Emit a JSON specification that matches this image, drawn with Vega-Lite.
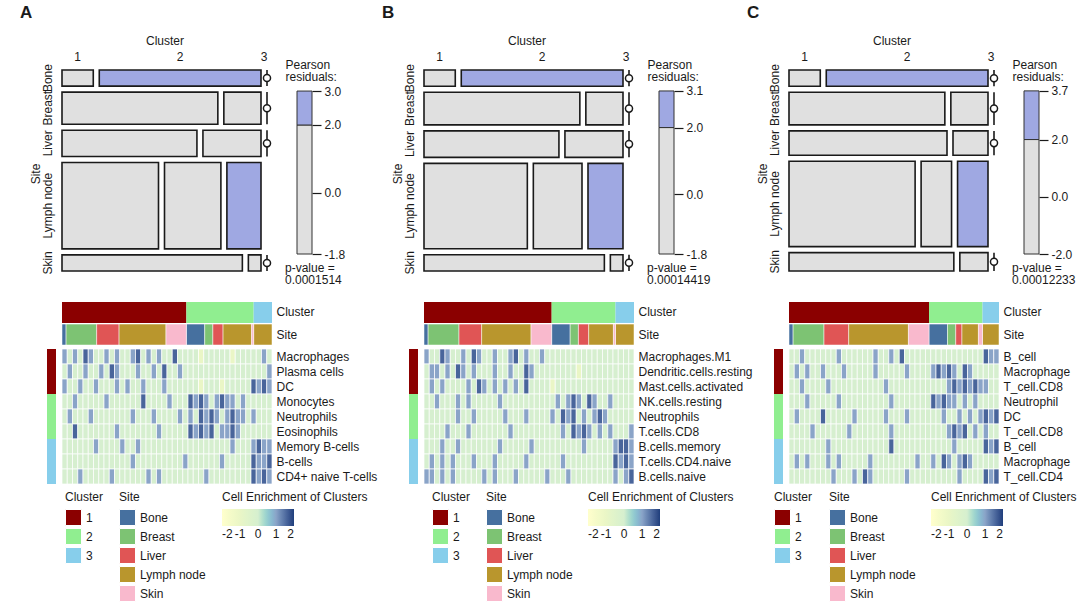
{
"$schema":"https://vega.github.io/schema/vega-lite/v6.json",
"padding":{"left":20,"top":4,"right":0,"bottom":0},
"config":{"font":"Liberation Sans","view":{"stroke":null},
"axis":{"labelFontSize":12,"titleFontSize":12,"titleFontWeight":"normal","labelColor":"#1a1a1a","titleColor":"#1a1a1a"},
"legend":{"labelFontSize":12,"titleFontSize":12,"titleFontWeight":"normal","labelColor":"#1a1a1a","titleColor":"#1a1a1a"},
"title":{"fontSize":12,"fontWeight":"normal","color":"#1a1a1a"}},
"datasets":{
"mA":[{"cl":"1","si":"Bone","n":2,"res":-1.2},{"cl":"2","si":"Bone","n":9,"res":2.4},{"cl":"3","si":"Bone","n":0,"res":-1.0},{"cl":"1","si":"Breast","n":15,"res":0.8},{"cl":"2","si":"Breast","n":4,"res":-0.9},{"cl":"3","si":"Breast","n":0,"res":-1.3},{"cl":"1","si":"Liver","n":11,"res":0.4},{"cl":"2","si":"Liver","n":5,"res":-0.1},{"cl":"3","si":"Liver","n":0,"res":-1.2},{"cl":"1","si":"Lymph node","n":23,"res":-0.3},{"cl":"2","si":"Lymph node","n":14,"res":-0.6},{"cl":"3","si":"Lymph node","n":9,"res":3.0},{"cl":"1","si":"Skin","n":10,"res":1.0},{"cl":"2","si":"Skin","n":1,"res":-1.5},{"cl":"3","si":"Skin","n":0,"res":-1.0}],
"mB":[{"cl":"1","si":"Bone","n":2,"res":-1.2},{"cl":"2","si":"Bone","n":9,"res":2.5},{"cl":"3","si":"Bone","n":0,"res":-1.0},{"cl":"1","si":"Breast","n":15,"res":0.8},{"cl":"2","si":"Breast","n":4,"res":-0.8},{"cl":"3","si":"Breast","n":0,"res":-1.3},{"cl":"1","si":"Liver","n":11,"res":0.4},{"cl":"2","si":"Liver","n":5,"res":0.0},{"cl":"3","si":"Liver","n":0,"res":-1.2},{"cl":"1","si":"Lymph node","n":24,"res":-0.3},{"cl":"2","si":"Lymph node","n":12,"res":-0.7},{"cl":"3","si":"Lymph node","n":9,"res":3.1},{"cl":"1","si":"Skin","n":10,"res":1.0},{"cl":"2","si":"Skin","n":1,"res":-1.4},{"cl":"3","si":"Skin","n":0,"res":-1.0}],
"mC":[{"cl":"1","si":"Bone","n":2,"res":-1.5},{"cl":"2","si":"Bone","n":9,"res":3.7},{"cl":"3","si":"Bone","n":0,"res":-0.9},{"cl":"1","si":"Breast","n":15,"res":0.5},{"cl":"2","si":"Breast","n":4,"res":-0.2},{"cl":"3","si":"Breast","n":0,"res":-1.2},{"cl":"1","si":"Liver","n":12,"res":0.6},{"cl":"2","si":"Liver","n":3,"res":-0.6},{"cl":"3","si":"Liver","n":0,"res":-1.1},{"cl":"1","si":"Lymph node","n":29,"res":0.0},{"cl":"2","si":"Lymph node","n":8,"res":-1.3},{"cl":"3","si":"Lymph node","n":8,"res":2.6},{"cl":"1","si":"Skin","n":10,"res":0.5},{"cl":"2","si":"Skin","n":2,"res":-0.4},{"cl":"3","si":"Skin","n":0,"res":-1.0}],
"hA":[
{"c":1,"r":1,"v":1},{"c":2,"r":1,"v":0},{"c":3,"r":1,"v":1},{"c":4,"r":1,"v":0},{"c":5,"r":1,"v":1.6},{"c":6,"r":1,"v":1},{"c":7,"r":1,"v":0},{"c":8,"r":1,"v":0},{"c":9,"r":1,"v":1},{"c":10,"r":1,"v":0},{"c":11,"r":1,"v":1},{"c":12,"r":1,"v":0},{"c":13,"r":1,"v":0},{"c":14,"r":1,"v":1},{"c":15,"r":1,"v":1.6},{"c":16,"r":1,"v":0},{"c":17,"r":1,"v":1},{"c":18,"r":1,"v":0},{"c":19,"r":1,"v":1},{"c":20,"r":1,"v":0},{"c":21,"r":1,"v":0},{"c":22,"r":1,"v":1.6},{"c":23,"r":1,"v":0},{"c":24,"r":1,"v":0},{"c":25,"r":1,"v":0},{"c":26,"r":1,"v":0},{"c":27,"r":1,"v":-1},{"c":28,"r":1,"v":0},{"c":29,"r":1,"v":0},{"c":30,"r":1,"v":0},{"c":31,"r":1,"v":0},{"c":32,"r":1,"v":0},{"c":33,"r":1,"v":-1},{"c":34,"r":1,"v":0},{"c":35,"r":1,"v":0},{"c":36,"r":1,"v":0},{"c":37,"r":1,"v":0},{"c":38,"r":1,"v":0},{"c":39,"r":1,"v":1},{"c":40,"r":1,"v":0},
{"c":1,"r":2,"v":0},{"c":2,"r":2,"v":1},{"c":3,"r":2,"v":0},{"c":4,"r":2,"v":0},{"c":5,"r":2,"v":1},{"c":6,"r":2,"v":0},{"c":7,"r":2,"v":0},{"c":8,"r":2,"v":1},{"c":9,"r":2,"v":0},{"c":10,"r":2,"v":1.6},{"c":11,"r":2,"v":1},{"c":12,"r":2,"v":0},{"c":13,"r":2,"v":0},{"c":14,"r":2,"v":0},{"c":15,"r":2,"v":1},{"c":16,"r":2,"v":0},{"c":17,"r":2,"v":0},{"c":18,"r":2,"v":1},{"c":19,"r":2,"v":0},{"c":20,"r":2,"v":1.6},{"c":21,"r":2,"v":0},{"c":22,"r":2,"v":0},{"c":23,"r":2,"v":1},{"c":24,"r":2,"v":0},{"c":25,"r":2,"v":0},{"c":26,"r":2,"v":0},{"c":27,"r":2,"v":0},{"c":28,"r":2,"v":0},{"c":29,"r":2,"v":0},{"c":30,"r":2,"v":0},{"c":31,"r":2,"v":0},{"c":32,"r":2,"v":0},{"c":33,"r":2,"v":0},{"c":34,"r":2,"v":0},{"c":35,"r":2,"v":0},{"c":36,"r":2,"v":0},{"c":37,"r":2,"v":0},{"c":38,"r":2,"v":0},{"c":39,"r":2,"v":0},{"c":40,"r":2,"v":1},
{"c":1,"r":3,"v":1},{"c":2,"r":3,"v":0},{"c":3,"r":3,"v":0},{"c":4,"r":3,"v":1},{"c":5,"r":3,"v":0},{"c":6,"r":3,"v":0},{"c":7,"r":3,"v":1},{"c":8,"r":3,"v":0},{"c":9,"r":3,"v":0},{"c":10,"r":3,"v":0},{"c":11,"r":3,"v":1},{"c":12,"r":3,"v":0},{"c":13,"r":3,"v":1},{"c":14,"r":3,"v":0},{"c":15,"r":3,"v":0},{"c":16,"r":3,"v":1},{"c":17,"r":3,"v":0},{"c":18,"r":3,"v":0},{"c":19,"r":3,"v":0},{"c":20,"r":3,"v":1},{"c":21,"r":3,"v":0},{"c":22,"r":3,"v":0},{"c":23,"r":3,"v":0},{"c":24,"r":3,"v":0},{"c":25,"r":3,"v":0},{"c":26,"r":3,"v":0},{"c":27,"r":3,"v":-1},{"c":28,"r":3,"v":0},{"c":29,"r":3,"v":0},{"c":30,"r":3,"v":0},{"c":31,"r":3,"v":-1},{"c":32,"r":3,"v":0},{"c":33,"r":3,"v":0},{"c":34,"r":3,"v":0},{"c":35,"r":3,"v":0},{"c":36,"r":3,"v":0},{"c":37,"r":3,"v":1.6},{"c":38,"r":3,"v":1},{"c":39,"r":3,"v":1.6},{"c":40,"r":3,"v":1},
{"c":1,"r":4,"v":0},{"c":2,"r":4,"v":0},{"c":3,"r":4,"v":1},{"c":4,"r":4,"v":0},{"c":5,"r":4,"v":0},{"c":6,"r":4,"v":0},{"c":7,"r":4,"v":0},{"c":8,"r":4,"v":0},{"c":9,"r":4,"v":1},{"c":10,"r":4,"v":0},{"c":11,"r":4,"v":0},{"c":12,"r":4,"v":0},{"c":13,"r":4,"v":0},{"c":14,"r":4,"v":0},{"c":15,"r":4,"v":0},{"c":16,"r":4,"v":1.6},{"c":17,"r":4,"v":0},{"c":18,"r":4,"v":0},{"c":19,"r":4,"v":0},{"c":20,"r":4,"v":0},{"c":21,"r":4,"v":1},{"c":22,"r":4,"v":0},{"c":23,"r":4,"v":0},{"c":24,"r":4,"v":0},{"c":25,"r":4,"v":1.6},{"c":26,"r":4,"v":1},{"c":27,"r":4,"v":1.6},{"c":28,"r":4,"v":1},{"c":29,"r":4,"v":0},{"c":30,"r":4,"v":1},{"c":31,"r":4,"v":1.6},{"c":32,"r":4,"v":1},{"c":33,"r":4,"v":1},{"c":34,"r":4,"v":0},{"c":35,"r":4,"v":1},{"c":36,"r":4,"v":0},{"c":37,"r":4,"v":0},{"c":38,"r":4,"v":0},{"c":39,"r":4,"v":0},{"c":40,"r":4,"v":0},
{"c":1,"r":5,"v":0},{"c":2,"r":5,"v":1},{"c":3,"r":5,"v":0},{"c":4,"r":5,"v":0},{"c":5,"r":5,"v":0},{"c":6,"r":5,"v":1},{"c":7,"r":5,"v":0},{"c":8,"r":5,"v":0},{"c":9,"r":5,"v":0},{"c":10,"r":5,"v":0},{"c":11,"r":5,"v":0},{"c":12,"r":5,"v":0},{"c":13,"r":5,"v":0},{"c":14,"r":5,"v":1},{"c":15,"r":5,"v":0},{"c":16,"r":5,"v":0},{"c":17,"r":5,"v":0},{"c":18,"r":5,"v":1},{"c":19,"r":5,"v":0},{"c":20,"r":5,"v":0},{"c":21,"r":5,"v":0},{"c":22,"r":5,"v":0},{"c":23,"r":5,"v":1},{"c":24,"r":5,"v":0},{"c":25,"r":5,"v":1},{"c":26,"r":5,"v":0},{"c":27,"r":5,"v":1.6},{"c":28,"r":5,"v":1},{"c":29,"r":5,"v":1.6},{"c":30,"r":5,"v":1},{"c":31,"r":5,"v":0},{"c":32,"r":5,"v":1},{"c":33,"r":5,"v":1.6},{"c":34,"r":5,"v":1},{"c":35,"r":5,"v":1},{"c":36,"r":5,"v":0},{"c":37,"r":5,"v":1},{"c":38,"r":5,"v":0},{"c":39,"r":5,"v":0},{"c":40,"r":5,"v":0},
{"c":1,"r":6,"v":0},{"c":2,"r":6,"v":0},{"c":3,"r":6,"v":1.6},{"c":4,"r":6,"v":0},{"c":5,"r":6,"v":0},{"c":6,"r":6,"v":0},{"c":7,"r":6,"v":0},{"c":8,"r":6,"v":0},{"c":9,"r":6,"v":0},{"c":10,"r":6,"v":0},{"c":11,"r":6,"v":1},{"c":12,"r":6,"v":0},{"c":13,"r":6,"v":0},{"c":14,"r":6,"v":0},{"c":15,"r":6,"v":0},{"c":16,"r":6,"v":0},{"c":17,"r":6,"v":0},{"c":18,"r":6,"v":0},{"c":19,"r":6,"v":1},{"c":20,"r":6,"v":0},{"c":21,"r":6,"v":0},{"c":22,"r":6,"v":0},{"c":23,"r":6,"v":0},{"c":24,"r":6,"v":0},{"c":25,"r":6,"v":1.6},{"c":26,"r":6,"v":1},{"c":27,"r":6,"v":1.6},{"c":28,"r":6,"v":1},{"c":29,"r":6,"v":1.6},{"c":30,"r":6,"v":0},{"c":31,"r":6,"v":1},{"c":32,"r":6,"v":1},{"c":33,"r":6,"v":1.6},{"c":34,"r":6,"v":1},{"c":35,"r":6,"v":0},{"c":36,"r":6,"v":0},{"c":37,"r":6,"v":0},{"c":38,"r":6,"v":0},{"c":39,"r":6,"v":0},{"c":40,"r":6,"v":0},
{"c":1,"r":7,"v":0},{"c":2,"r":7,"v":0},{"c":3,"r":7,"v":0},{"c":4,"r":7,"v":0},{"c":5,"r":7,"v":0},{"c":6,"r":7,"v":0},{"c":7,"r":7,"v":1},{"c":8,"r":7,"v":0},{"c":9,"r":7,"v":0},{"c":10,"r":7,"v":0},{"c":11,"r":7,"v":0},{"c":12,"r":7,"v":1},{"c":13,"r":7,"v":0},{"c":14,"r":7,"v":0},{"c":15,"r":7,"v":1},{"c":16,"r":7,"v":0},{"c":17,"r":7,"v":0},{"c":18,"r":7,"v":0},{"c":19,"r":7,"v":0},{"c":20,"r":7,"v":0},{"c":21,"r":7,"v":0},{"c":22,"r":7,"v":0},{"c":23,"r":7,"v":0},{"c":24,"r":7,"v":0},{"c":25,"r":7,"v":0},{"c":26,"r":7,"v":0},{"c":27,"r":7,"v":0},{"c":28,"r":7,"v":0},{"c":29,"r":7,"v":0},{"c":30,"r":7,"v":0},{"c":31,"r":7,"v":0},{"c":32,"r":7,"v":0},{"c":33,"r":7,"v":1},{"c":34,"r":7,"v":0},{"c":35,"r":7,"v":0},{"c":36,"r":7,"v":0},{"c":37,"r":7,"v":1},{"c":38,"r":7,"v":1.6},{"c":39,"r":7,"v":1},{"c":40,"r":7,"v":1},
{"c":1,"r":8,"v":0},{"c":2,"r":8,"v":0},{"c":3,"r":8,"v":0},{"c":4,"r":8,"v":0},{"c":5,"r":8,"v":0},{"c":6,"r":8,"v":0},{"c":7,"r":8,"v":0},{"c":8,"r":8,"v":0},{"c":9,"r":8,"v":0},{"c":10,"r":8,"v":0},{"c":11,"r":8,"v":0},{"c":12,"r":8,"v":0},{"c":13,"r":8,"v":0},{"c":14,"r":8,"v":1},{"c":15,"r":8,"v":0},{"c":16,"r":8,"v":0},{"c":17,"r":8,"v":0},{"c":18,"r":8,"v":0},{"c":19,"r":8,"v":0},{"c":20,"r":8,"v":0},{"c":21,"r":8,"v":0},{"c":22,"r":8,"v":0},{"c":23,"r":8,"v":0},{"c":24,"r":8,"v":1},{"c":25,"r":8,"v":0},{"c":26,"r":8,"v":0},{"c":27,"r":8,"v":0},{"c":28,"r":8,"v":0},{"c":29,"r":8,"v":0},{"c":30,"r":8,"v":0},{"c":31,"r":8,"v":1},{"c":32,"r":8,"v":0},{"c":33,"r":8,"v":0},{"c":34,"r":8,"v":0},{"c":35,"r":8,"v":0},{"c":36,"r":8,"v":0},{"c":37,"r":8,"v":1.6},{"c":38,"r":8,"v":1},{"c":39,"r":8,"v":1},{"c":40,"r":8,"v":1.6},
{"c":1,"r":9,"v":0},{"c":2,"r":9,"v":0},{"c":3,"r":9,"v":0},{"c":4,"r":9,"v":1},{"c":5,"r":9,"v":0},{"c":6,"r":9,"v":0},{"c":7,"r":9,"v":0},{"c":8,"r":9,"v":0},{"c":9,"r":9,"v":0},{"c":10,"r":9,"v":1},{"c":11,"r":9,"v":0},{"c":12,"r":9,"v":0},{"c":13,"r":9,"v":0},{"c":14,"r":9,"v":0},{"c":15,"r":9,"v":0},{"c":16,"r":9,"v":0},{"c":17,"r":9,"v":1},{"c":18,"r":9,"v":0},{"c":19,"r":9,"v":1},{"c":20,"r":9,"v":0},{"c":21,"r":9,"v":0},{"c":22,"r":9,"v":0},{"c":23,"r":9,"v":0},{"c":24,"r":9,"v":0},{"c":25,"r":9,"v":0},{"c":26,"r":9,"v":0},{"c":27,"r":9,"v":0},{"c":28,"r":9,"v":1},{"c":29,"r":9,"v":0},{"c":30,"r":9,"v":0},{"c":31,"r":9,"v":0},{"c":32,"r":9,"v":0},{"c":33,"r":9,"v":0},{"c":34,"r":9,"v":0},{"c":35,"r":9,"v":0},{"c":36,"r":9,"v":0},{"c":37,"r":9,"v":1.6},{"c":38,"r":9,"v":1},{"c":39,"r":9,"v":1.6},{"c":40,"r":9,"v":1}],
"hB":[
{"c":1,"r":1,"v":1},{"c":2,"r":1,"v":0},{"c":3,"r":1,"v":0},{"c":4,"r":1,"v":1.6},{"c":5,"r":1,"v":1},{"c":6,"r":1,"v":0},{"c":7,"r":1,"v":0},{"c":8,"r":1,"v":1},{"c":9,"r":1,"v":0},{"c":10,"r":1,"v":1.6},{"c":11,"r":1,"v":1},{"c":12,"r":1,"v":0},{"c":13,"r":1,"v":0},{"c":14,"r":1,"v":1},{"c":15,"r":1,"v":0},{"c":16,"r":1,"v":0},{"c":17,"r":1,"v":1},{"c":18,"r":1,"v":1.6},{"c":19,"r":1,"v":0},{"c":20,"r":1,"v":1},{"c":21,"r":1,"v":0},{"c":22,"r":1,"v":0},{"c":23,"r":1,"v":1},{"c":24,"r":1,"v":0},{"c":25,"r":1,"v":0},{"c":26,"r":1,"v":0},{"c":27,"r":1,"v":0},{"c":28,"r":1,"v":0},{"c":29,"r":1,"v":0},{"c":30,"r":1,"v":0},{"c":31,"r":1,"v":0},{"c":32,"r":1,"v":0},{"c":33,"r":1,"v":0},{"c":34,"r":1,"v":0},{"c":35,"r":1,"v":0},{"c":36,"r":1,"v":0},{"c":37,"r":1,"v":0},{"c":38,"r":1,"v":0},{"c":39,"r":1,"v":0},{"c":40,"r":1,"v":0},
{"c":1,"r":2,"v":0},{"c":2,"r":2,"v":1},{"c":3,"r":2,"v":1},{"c":4,"r":2,"v":0},{"c":5,"r":2,"v":1},{"c":6,"r":2,"v":0},{"c":7,"r":2,"v":1.6},{"c":8,"r":2,"v":1},{"c":9,"r":2,"v":0},{"c":10,"r":2,"v":1},{"c":11,"r":2,"v":0},{"c":12,"r":2,"v":0},{"c":13,"r":2,"v":0},{"c":14,"r":2,"v":1},{"c":15,"r":2,"v":0},{"c":16,"r":2,"v":0},{"c":17,"r":2,"v":1},{"c":18,"r":2,"v":0},{"c":19,"r":2,"v":0},{"c":20,"r":2,"v":1.6},{"c":21,"r":2,"v":1},{"c":22,"r":2,"v":0},{"c":23,"r":2,"v":0},{"c":24,"r":2,"v":0},{"c":25,"r":2,"v":0},{"c":26,"r":2,"v":0},{"c":27,"r":2,"v":0},{"c":28,"r":2,"v":0},{"c":29,"r":2,"v":0},{"c":30,"r":2,"v":-1},{"c":31,"r":2,"v":0},{"c":32,"r":2,"v":0},{"c":33,"r":2,"v":0},{"c":34,"r":2,"v":0},{"c":35,"r":2,"v":0},{"c":36,"r":2,"v":0},{"c":37,"r":2,"v":0},{"c":38,"r":2,"v":0},{"c":39,"r":2,"v":0},{"c":40,"r":2,"v":0},
{"c":1,"r":3,"v":0},{"c":2,"r":3,"v":1},{"c":3,"r":3,"v":0},{"c":4,"r":3,"v":1},{"c":5,"r":3,"v":0},{"c":6,"r":3,"v":0},{"c":7,"r":3,"v":0},{"c":8,"r":3,"v":0},{"c":9,"r":3,"v":1},{"c":10,"r":3,"v":0},{"c":11,"r":3,"v":1.6},{"c":12,"r":3,"v":1},{"c":13,"r":3,"v":0},{"c":14,"r":3,"v":1},{"c":15,"r":3,"v":0},{"c":16,"r":3,"v":1},{"c":17,"r":3,"v":0},{"c":18,"r":3,"v":1},{"c":19,"r":3,"v":0},{"c":20,"r":3,"v":1.6},{"c":21,"r":3,"v":0},{"c":22,"r":3,"v":0},{"c":23,"r":3,"v":0},{"c":24,"r":3,"v":0},{"c":25,"r":3,"v":-1},{"c":26,"r":3,"v":0},{"c":27,"r":3,"v":0},{"c":28,"r":3,"v":0},{"c":29,"r":3,"v":0},{"c":30,"r":3,"v":0},{"c":31,"r":3,"v":0},{"c":32,"r":3,"v":0},{"c":33,"r":3,"v":0},{"c":34,"r":3,"v":0},{"c":35,"r":3,"v":0},{"c":36,"r":3,"v":0},{"c":37,"r":3,"v":0},{"c":38,"r":3,"v":0},{"c":39,"r":3,"v":0},{"c":40,"r":3,"v":0},
{"c":1,"r":4,"v":0},{"c":2,"r":4,"v":0},{"c":3,"r":4,"v":1},{"c":4,"r":4,"v":0},{"c":5,"r":4,"v":0},{"c":6,"r":4,"v":0},{"c":7,"r":4,"v":1},{"c":8,"r":4,"v":0},{"c":9,"r":4,"v":1},{"c":10,"r":4,"v":0},{"c":11,"r":4,"v":0},{"c":12,"r":4,"v":0},{"c":13,"r":4,"v":0},{"c":14,"r":4,"v":0},{"c":15,"r":4,"v":1},{"c":16,"r":4,"v":0},{"c":17,"r":4,"v":0},{"c":18,"r":4,"v":0},{"c":19,"r":4,"v":0},{"c":20,"r":4,"v":0},{"c":21,"r":4,"v":0},{"c":22,"r":4,"v":0},{"c":23,"r":4,"v":0},{"c":24,"r":4,"v":0},{"c":25,"r":4,"v":0},{"c":26,"r":4,"v":1},{"c":27,"r":4,"v":0},{"c":28,"r":4,"v":1},{"c":29,"r":4,"v":1.6},{"c":30,"r":4,"v":1},{"c":31,"r":4,"v":0},{"c":32,"r":4,"v":1.6},{"c":33,"r":4,"v":1},{"c":34,"r":4,"v":0},{"c":35,"r":4,"v":0},{"c":36,"r":4,"v":1},{"c":37,"r":4,"v":0},{"c":38,"r":4,"v":0},{"c":39,"r":4,"v":0},{"c":40,"r":4,"v":0},
{"c":1,"r":5,"v":0},{"c":2,"r":5,"v":0},{"c":3,"r":5,"v":0},{"c":4,"r":5,"v":0},{"c":5,"r":5,"v":0},{"c":6,"r":5,"v":0},{"c":7,"r":5,"v":1},{"c":8,"r":5,"v":0},{"c":9,"r":5,"v":0},{"c":10,"r":5,"v":1},{"c":11,"r":5,"v":0},{"c":12,"r":5,"v":0},{"c":13,"r":5,"v":0},{"c":14,"r":5,"v":0},{"c":15,"r":5,"v":0},{"c":16,"r":5,"v":1},{"c":17,"r":5,"v":0},{"c":18,"r":5,"v":0},{"c":19,"r":5,"v":0},{"c":20,"r":5,"v":1},{"c":21,"r":5,"v":0},{"c":22,"r":5,"v":0},{"c":23,"r":5,"v":0},{"c":24,"r":5,"v":0},{"c":25,"r":5,"v":1},{"c":26,"r":5,"v":0},{"c":27,"r":5,"v":1.6},{"c":28,"r":5,"v":1},{"c":29,"r":5,"v":1.6},{"c":30,"r":5,"v":0},{"c":31,"r":5,"v":1},{"c":32,"r":5,"v":0},{"c":33,"r":5,"v":1},{"c":34,"r":5,"v":1.6},{"c":35,"r":5,"v":1},{"c":36,"r":5,"v":0},{"c":37,"r":5,"v":0},{"c":38,"r":5,"v":0},{"c":39,"r":5,"v":0},{"c":40,"r":5,"v":0},
{"c":1,"r":6,"v":0},{"c":2,"r":6,"v":0},{"c":3,"r":6,"v":0},{"c":4,"r":6,"v":0},{"c":5,"r":6,"v":1},{"c":6,"r":6,"v":0},{"c":7,"r":6,"v":0},{"c":8,"r":6,"v":0},{"c":9,"r":6,"v":1},{"c":10,"r":6,"v":0},{"c":11,"r":6,"v":0},{"c":12,"r":6,"v":0},{"c":13,"r":6,"v":0},{"c":14,"r":6,"v":0},{"c":15,"r":6,"v":0},{"c":16,"r":6,"v":0},{"c":17,"r":6,"v":1},{"c":18,"r":6,"v":0},{"c":19,"r":6,"v":0},{"c":20,"r":6,"v":0},{"c":21,"r":6,"v":0},{"c":22,"r":6,"v":0},{"c":23,"r":6,"v":0},{"c":24,"r":6,"v":0},{"c":25,"r":6,"v":0},{"c":26,"r":6,"v":0},{"c":27,"r":6,"v":1},{"c":28,"r":6,"v":0},{"c":29,"r":6,"v":1.6},{"c":30,"r":6,"v":1},{"c":31,"r":6,"v":1.6},{"c":32,"r":6,"v":1},{"c":33,"r":6,"v":0},{"c":34,"r":6,"v":1},{"c":35,"r":6,"v":0},{"c":36,"r":6,"v":1},{"c":37,"r":6,"v":0},{"c":38,"r":6,"v":0},{"c":39,"r":6,"v":0},{"c":40,"r":6,"v":1},
{"c":1,"r":7,"v":0},{"c":2,"r":7,"v":0},{"c":3,"r":7,"v":0},{"c":4,"r":7,"v":1},{"c":5,"r":7,"v":0},{"c":6,"r":7,"v":0},{"c":7,"r":7,"v":1},{"c":8,"r":7,"v":0},{"c":9,"r":7,"v":0},{"c":10,"r":7,"v":0},{"c":11,"r":7,"v":0},{"c":12,"r":7,"v":0},{"c":13,"r":7,"v":0},{"c":14,"r":7,"v":0},{"c":15,"r":7,"v":1},{"c":16,"r":7,"v":0},{"c":17,"r":7,"v":0},{"c":18,"r":7,"v":0},{"c":19,"r":7,"v":0},{"c":20,"r":7,"v":0},{"c":21,"r":7,"v":1},{"c":22,"r":7,"v":0},{"c":23,"r":7,"v":0},{"c":24,"r":7,"v":0},{"c":25,"r":7,"v":0},{"c":26,"r":7,"v":0},{"c":27,"r":7,"v":0},{"c":28,"r":7,"v":0},{"c":29,"r":7,"v":0},{"c":30,"r":7,"v":0},{"c":31,"r":7,"v":1},{"c":32,"r":7,"v":0},{"c":33,"r":7,"v":0},{"c":34,"r":7,"v":0},{"c":35,"r":7,"v":0},{"c":36,"r":7,"v":0},{"c":37,"r":7,"v":1},{"c":38,"r":7,"v":1.6},{"c":39,"r":7,"v":1.6},{"c":40,"r":7,"v":1},
{"c":1,"r":8,"v":0},{"c":2,"r":8,"v":1},{"c":3,"r":8,"v":0},{"c":4,"r":8,"v":1},{"c":5,"r":8,"v":0},{"c":6,"r":8,"v":1},{"c":7,"r":8,"v":0},{"c":8,"r":8,"v":0},{"c":9,"r":8,"v":0},{"c":10,"r":8,"v":1},{"c":11,"r":8,"v":0},{"c":12,"r":8,"v":0},{"c":13,"r":8,"v":0},{"c":14,"r":8,"v":1},{"c":15,"r":8,"v":0},{"c":16,"r":8,"v":0},{"c":17,"r":8,"v":0},{"c":18,"r":8,"v":0},{"c":19,"r":8,"v":0},{"c":20,"r":8,"v":1},{"c":21,"r":8,"v":0},{"c":22,"r":8,"v":0},{"c":23,"r":8,"v":0},{"c":24,"r":8,"v":0},{"c":25,"r":8,"v":0},{"c":26,"r":8,"v":0},{"c":27,"r":8,"v":1},{"c":28,"r":8,"v":0},{"c":29,"r":8,"v":0},{"c":30,"r":8,"v":0},{"c":31,"r":8,"v":0},{"c":32,"r":8,"v":0},{"c":33,"r":8,"v":0},{"c":34,"r":8,"v":0},{"c":35,"r":8,"v":0},{"c":36,"r":8,"v":0},{"c":37,"r":8,"v":1.6},{"c":38,"r":8,"v":1},{"c":39,"r":8,"v":1.6},{"c":40,"r":8,"v":1},
{"c":1,"r":9,"v":1},{"c":2,"r":9,"v":1},{"c":3,"r":9,"v":0},{"c":4,"r":9,"v":1},{"c":5,"r":9,"v":0},{"c":6,"r":9,"v":1},{"c":7,"r":9,"v":0},{"c":8,"r":9,"v":0},{"c":9,"r":9,"v":0},{"c":10,"r":9,"v":0},{"c":11,"r":9,"v":0},{"c":12,"r":9,"v":1},{"c":13,"r":9,"v":0},{"c":14,"r":9,"v":1},{"c":15,"r":9,"v":0},{"c":16,"r":9,"v":0},{"c":17,"r":9,"v":0},{"c":18,"r":9,"v":1},{"c":19,"r":9,"v":0},{"c":20,"r":9,"v":0},{"c":21,"r":9,"v":0},{"c":22,"r":9,"v":0},{"c":23,"r":9,"v":0},{"c":24,"r":9,"v":1},{"c":25,"r":9,"v":0},{"c":26,"r":9,"v":0},{"c":27,"r":9,"v":0},{"c":28,"r":9,"v":1},{"c":29,"r":9,"v":0},{"c":30,"r":9,"v":0},{"c":31,"r":9,"v":0},{"c":32,"r":9,"v":0},{"c":33,"r":9,"v":0},{"c":34,"r":9,"v":0},{"c":35,"r":9,"v":0},{"c":36,"r":9,"v":0},{"c":37,"r":9,"v":1},{"c":38,"r":9,"v":0},{"c":39,"r":9,"v":1},{"c":40,"r":9,"v":1.6}],
"hC":[
{"c":1,"r":1,"v":0},{"c":2,"r":1,"v":0},{"c":3,"r":1,"v":1},{"c":4,"r":1,"v":0},{"c":5,"r":1,"v":0},{"c":6,"r":1,"v":0},{"c":7,"r":1,"v":0},{"c":8,"r":1,"v":0},{"c":9,"r":1,"v":0},{"c":10,"r":1,"v":1},{"c":11,"r":1,"v":0},{"c":12,"r":1,"v":0},{"c":13,"r":1,"v":0},{"c":14,"r":1,"v":0},{"c":15,"r":1,"v":0},{"c":16,"r":1,"v":0},{"c":17,"r":1,"v":1},{"c":18,"r":1,"v":0},{"c":19,"r":1,"v":0},{"c":20,"r":1,"v":1},{"c":21,"r":1,"v":0},{"c":22,"r":1,"v":1.6},{"c":23,"r":1,"v":0},{"c":24,"r":1,"v":0},{"c":25,"r":1,"v":0},{"c":26,"r":1,"v":0},{"c":27,"r":1,"v":0},{"c":28,"r":1,"v":0},{"c":29,"r":1,"v":0},{"c":30,"r":1,"v":0},{"c":31,"r":1,"v":0},{"c":32,"r":1,"v":0},{"c":33,"r":1,"v":0},{"c":34,"r":1,"v":0},{"c":35,"r":1,"v":0},{"c":36,"r":1,"v":0},{"c":37,"r":1,"v":0},{"c":38,"r":1,"v":1.6},{"c":39,"r":1,"v":1},{"c":40,"r":1,"v":1},
{"c":1,"r":2,"v":0},{"c":2,"r":2,"v":1},{"c":3,"r":2,"v":0},{"c":4,"r":2,"v":1},{"c":5,"r":2,"v":0},{"c":6,"r":2,"v":0},{"c":7,"r":2,"v":1},{"c":8,"r":2,"v":0},{"c":9,"r":2,"v":0},{"c":10,"r":2,"v":0},{"c":11,"r":2,"v":1},{"c":12,"r":2,"v":0},{"c":13,"r":2,"v":0},{"c":14,"r":2,"v":0},{"c":15,"r":2,"v":0},{"c":16,"r":2,"v":0},{"c":17,"r":2,"v":1},{"c":18,"r":2,"v":0},{"c":19,"r":2,"v":0},{"c":20,"r":2,"v":0},{"c":21,"r":2,"v":0},{"c":22,"r":2,"v":0},{"c":23,"r":2,"v":1},{"c":24,"r":2,"v":0},{"c":25,"r":2,"v":0},{"c":26,"r":2,"v":0},{"c":27,"r":2,"v":0},{"c":28,"r":2,"v":1},{"c":29,"r":2,"v":1.6},{"c":30,"r":2,"v":1},{"c":31,"r":2,"v":1.6},{"c":32,"r":2,"v":1},{"c":33,"r":2,"v":0},{"c":34,"r":2,"v":1.6},{"c":35,"r":2,"v":1},{"c":36,"r":2,"v":0},{"c":37,"r":2,"v":0},{"c":38,"r":2,"v":0},{"c":39,"r":2,"v":0},{"c":40,"r":2,"v":0},
{"c":1,"r":3,"v":0},{"c":2,"r":3,"v":0},{"c":3,"r":3,"v":1},{"c":4,"r":3,"v":0},{"c":5,"r":3,"v":0},{"c":6,"r":3,"v":0},{"c":7,"r":3,"v":0},{"c":8,"r":3,"v":1},{"c":9,"r":3,"v":0},{"c":10,"r":3,"v":0},{"c":11,"r":3,"v":0},{"c":12,"r":3,"v":0},{"c":13,"r":3,"v":0},{"c":14,"r":3,"v":0},{"c":15,"r":3,"v":0},{"c":16,"r":3,"v":0},{"c":17,"r":3,"v":0},{"c":18,"r":3,"v":0},{"c":19,"r":3,"v":1},{"c":20,"r":3,"v":0},{"c":21,"r":3,"v":0},{"c":22,"r":3,"v":0},{"c":23,"r":3,"v":0},{"c":24,"r":3,"v":0},{"c":25,"r":3,"v":0},{"c":26,"r":3,"v":0},{"c":27,"r":3,"v":0},{"c":28,"r":3,"v":0},{"c":29,"r":3,"v":0},{"c":30,"r":3,"v":0},{"c":31,"r":3,"v":1},{"c":32,"r":3,"v":1.6},{"c":33,"r":3,"v":1},{"c":34,"r":3,"v":1.6},{"c":35,"r":3,"v":1},{"c":36,"r":3,"v":1.6},{"c":37,"r":3,"v":1},{"c":38,"r":3,"v":1},{"c":39,"r":3,"v":0},{"c":40,"r":3,"v":0},
{"c":1,"r":4,"v":0},{"c":2,"r":4,"v":0},{"c":3,"r":4,"v":0},{"c":4,"r":4,"v":1},{"c":5,"r":4,"v":0},{"c":6,"r":4,"v":0},{"c":7,"r":4,"v":0},{"c":8,"r":4,"v":0},{"c":9,"r":4,"v":0},{"c":10,"r":4,"v":1},{"c":11,"r":4,"v":0},{"c":12,"r":4,"v":0},{"c":13,"r":4,"v":0},{"c":14,"r":4,"v":0},{"c":15,"r":4,"v":0},{"c":16,"r":4,"v":0},{"c":17,"r":4,"v":0},{"c":18,"r":4,"v":0},{"c":19,"r":4,"v":0},{"c":20,"r":4,"v":1},{"c":21,"r":4,"v":0},{"c":22,"r":4,"v":0},{"c":23,"r":4,"v":0},{"c":24,"r":4,"v":0},{"c":25,"r":4,"v":0},{"c":26,"r":4,"v":0},{"c":27,"r":4,"v":0},{"c":28,"r":4,"v":1.6},{"c":29,"r":4,"v":1},{"c":30,"r":4,"v":1.6},{"c":31,"r":4,"v":1},{"c":32,"r":4,"v":1},{"c":33,"r":4,"v":0},{"c":34,"r":4,"v":1},{"c":35,"r":4,"v":0},{"c":36,"r":4,"v":1},{"c":37,"r":4,"v":0},{"c":38,"r":4,"v":0},{"c":39,"r":4,"v":0},{"c":40,"r":4,"v":0},
{"c":1,"r":5,"v":0},{"c":2,"r":5,"v":1},{"c":3,"r":5,"v":0},{"c":4,"r":5,"v":0},{"c":5,"r":5,"v":0},{"c":6,"r":5,"v":0},{"c":7,"r":5,"v":1.6},{"c":8,"r":5,"v":0},{"c":9,"r":5,"v":0},{"c":10,"r":5,"v":0},{"c":11,"r":5,"v":0},{"c":12,"r":5,"v":0},{"c":13,"r":5,"v":1},{"c":14,"r":5,"v":0},{"c":15,"r":5,"v":0},{"c":16,"r":5,"v":0},{"c":17,"r":5,"v":0},{"c":18,"r":5,"v":0},{"c":19,"r":5,"v":1},{"c":20,"r":5,"v":0},{"c":21,"r":5,"v":0},{"c":22,"r":5,"v":0},{"c":23,"r":5,"v":1},{"c":24,"r":5,"v":0},{"c":25,"r":5,"v":0},{"c":26,"r":5,"v":0},{"c":27,"r":5,"v":0},{"c":28,"r":5,"v":0},{"c":29,"r":5,"v":0},{"c":30,"r":5,"v":1},{"c":31,"r":5,"v":0},{"c":32,"r":5,"v":0},{"c":33,"r":5,"v":1},{"c":34,"r":5,"v":0},{"c":35,"r":5,"v":1},{"c":36,"r":5,"v":0},{"c":37,"r":5,"v":1},{"c":38,"r":5,"v":1.6},{"c":39,"r":5,"v":1},{"c":40,"r":5,"v":1.6},
{"c":1,"r":6,"v":0},{"c":2,"r":6,"v":0},{"c":3,"r":6,"v":0},{"c":4,"r":6,"v":0},{"c":5,"r":6,"v":1},{"c":6,"r":6,"v":0},{"c":7,"r":6,"v":0},{"c":8,"r":6,"v":0},{"c":9,"r":6,"v":0},{"c":10,"r":6,"v":0},{"c":11,"r":6,"v":0},{"c":12,"r":6,"v":1},{"c":13,"r":6,"v":0},{"c":14,"r":6,"v":0},{"c":15,"r":6,"v":0},{"c":16,"r":6,"v":0},{"c":17,"r":6,"v":0},{"c":18,"r":6,"v":0},{"c":19,"r":6,"v":0},{"c":20,"r":6,"v":1},{"c":21,"r":6,"v":0},{"c":22,"r":6,"v":0},{"c":23,"r":6,"v":0},{"c":24,"r":6,"v":0},{"c":25,"r":6,"v":0},{"c":26,"r":6,"v":0},{"c":27,"r":6,"v":0},{"c":28,"r":6,"v":0},{"c":29,"r":6,"v":0},{"c":30,"r":6,"v":0},{"c":31,"r":6,"v":1},{"c":32,"r":6,"v":1.6},{"c":33,"r":6,"v":1},{"c":34,"r":6,"v":1.6},{"c":35,"r":6,"v":0},{"c":36,"r":6,"v":1},{"c":37,"r":6,"v":0},{"c":38,"r":6,"v":1},{"c":39,"r":6,"v":0},{"c":40,"r":6,"v":0},
{"c":1,"r":7,"v":0},{"c":2,"r":7,"v":0},{"c":3,"r":7,"v":0},{"c":4,"r":7,"v":0},{"c":5,"r":7,"v":0},{"c":6,"r":7,"v":0},{"c":7,"r":7,"v":0},{"c":8,"r":7,"v":1},{"c":9,"r":7,"v":0},{"c":10,"r":7,"v":0},{"c":11,"r":7,"v":0},{"c":12,"r":7,"v":0},{"c":13,"r":7,"v":0},{"c":14,"r":7,"v":0},{"c":15,"r":7,"v":0},{"c":16,"r":7,"v":0},{"c":17,"r":7,"v":0},{"c":18,"r":7,"v":0},{"c":19,"r":7,"v":0},{"c":20,"r":7,"v":1.6},{"c":21,"r":7,"v":0},{"c":22,"r":7,"v":0},{"c":23,"r":7,"v":0},{"c":24,"r":7,"v":0},{"c":25,"r":7,"v":0},{"c":26,"r":7,"v":0},{"c":27,"r":7,"v":0},{"c":28,"r":7,"v":0},{"c":29,"r":7,"v":0},{"c":30,"r":7,"v":0},{"c":31,"r":7,"v":0},{"c":32,"r":7,"v":1},{"c":33,"r":7,"v":0},{"c":34,"r":7,"v":0},{"c":35,"r":7,"v":0},{"c":36,"r":7,"v":0},{"c":37,"r":7,"v":0},{"c":38,"r":7,"v":1.6},{"c":39,"r":7,"v":1},{"c":40,"r":7,"v":1.6},
{"c":1,"r":8,"v":0},{"c":2,"r":8,"v":1},{"c":3,"r":8,"v":0},{"c":4,"r":8,"v":1},{"c":5,"r":8,"v":0},{"c":6,"r":8,"v":0},{"c":7,"r":8,"v":0},{"c":8,"r":8,"v":1},{"c":9,"r":8,"v":0},{"c":10,"r":8,"v":1},{"c":11,"r":8,"v":0},{"c":12,"r":8,"v":0},{"c":13,"r":8,"v":0},{"c":14,"r":8,"v":0},{"c":15,"r":8,"v":0},{"c":16,"r":8,"v":1},{"c":17,"r":8,"v":0},{"c":18,"r":8,"v":0},{"c":19,"r":8,"v":0},{"c":20,"r":8,"v":0},{"c":21,"r":8,"v":0},{"c":22,"r":8,"v":0},{"c":23,"r":8,"v":0},{"c":24,"r":8,"v":0},{"c":25,"r":8,"v":1},{"c":26,"r":8,"v":0},{"c":27,"r":8,"v":0},{"c":28,"r":8,"v":1},{"c":29,"r":8,"v":0},{"c":30,"r":8,"v":1.6},{"c":31,"r":8,"v":1},{"c":32,"r":8,"v":0},{"c":33,"r":8,"v":1},{"c":34,"r":8,"v":1.6},{"c":35,"r":8,"v":1},{"c":36,"r":8,"v":0},{"c":37,"r":8,"v":0},{"c":38,"r":8,"v":0},{"c":39,"r":8,"v":0},{"c":40,"r":8,"v":0},
{"c":1,"r":9,"v":0},{"c":2,"r":9,"v":0},{"c":3,"r":9,"v":0},{"c":4,"r":9,"v":0},{"c":5,"r":9,"v":0},{"c":6,"r":9,"v":0},{"c":7,"r":9,"v":0},{"c":8,"r":9,"v":0},{"c":9,"r":9,"v":1},{"c":10,"r":9,"v":0},{"c":11,"r":9,"v":0},{"c":12,"r":9,"v":0},{"c":13,"r":9,"v":1},{"c":14,"r":9,"v":0},{"c":15,"r":9,"v":1.6},{"c":16,"r":9,"v":1},{"c":17,"r":9,"v":0},{"c":18,"r":9,"v":0},{"c":19,"r":9,"v":0},{"c":20,"r":9,"v":0},{"c":21,"r":9,"v":0},{"c":22,"r":9,"v":0},{"c":23,"r":9,"v":1},{"c":24,"r":9,"v":0},{"c":25,"r":9,"v":0},{"c":26,"r":9,"v":0},{"c":27,"r":9,"v":0},{"c":28,"r":9,"v":0},{"c":29,"r":9,"v":0},{"c":30,"r":9,"v":0},{"c":31,"r":9,"v":0},{"c":32,"r":9,"v":0},{"c":33,"r":9,"v":1},{"c":34,"r":9,"v":0},{"c":35,"r":9,"v":0},{"c":36,"r":9,"v":0},{"c":37,"r":9,"v":0},{"c":38,"r":9,"v":1.6},{"c":39,"r":9,"v":1},{"c":40,"r":9,"v":1.6}],
"grp":[{"r":1,"g":"1"},{"r":2,"g":"1"},{"r":3,"g":"1"},{"r":4,"g":"2"},{"r":5,"g":"2"},{"r":6,"g":"2"},{"r":7,"g":"3"},{"r":8,"g":"3"},{"r":9,"g":"3"}]
},
"columns":14,"bounds":"flush","spacing":{"row":4,"column":6},
"resolve":{"scale":{"color":"independent"}},
"concat":[
{"width":9,"height":207,"title":{"text":"A","fontSize":17,"fontWeight":"bold","anchor":"start","frame":"group","dx":-27,"offset":48},"data":{"values":[]},"mark":"rect","encoding":{}},
{"width":205,"height":207,"data":{"name":"mA"},
 "transform":[{"stack":"n","groupby":["si"],"sort":[{"field":"cl"}],"offset":"normalize","as":["x0","x1"]},{"stack":"n","groupby":[],"sort":[{"field":"si"},{"field":"cl"}],"offset":"normalize","as":["y0","y1"]},{"joinaggregate":[{"op":"min","field":"y0","as":"ys0"},{"op":"max","field":"y1","as":"ys1"}],"groupby":["si"]}],
 "layer":[
 {"transform":[{"filter":"datum.n > 0"}],"mark":{"type":"rect","x2Offset":-6,"y2Offset":-6,"stroke":"#1a1a1a","strokeWidth":1.6},
  "encoding":{"x":{"field":"x0","type":"quantitative","title":"Cluster","scale":{"domain":[0,1],"nice":false,"zero":false},"axis":{"orient":"top","labels":false,"ticks":false,"domain":false,"grid":false,"titlePadding":23}},"x2":{"field":"x1"},
  "y":{"field":"ys0","type":"quantitative","title":"Site","scale":{"domain":[0,1],"nice":false,"zero":false,"reverse":true},"axis":{"orient":"left","labels":false,"ticks":false,"domain":false,"grid":false,"titlePadding":20}},"y2":{"field":"ys1"},
  "color":{"field":"res","type":"quantitative","scale":{"type":"threshold","domain":[2],"range":["#e0e0e0","#9fa8e2"]},"legend":null}}},
 {"transform":[{"filter":"datum.n == 0"}],"mark":{"type":"rule","y2Offset":-6,"strokeWidth":1.6,"color":"#1a1a1a"},
  "encoding":{"x":{"field":"x0","type":"quantitative","title":"Cluster"},"y":{"field":"ys0","type":"quantitative","title":"Site"},"y2":{"field":"ys1"}}},
 {"transform":[{"filter":"datum.n == 0"},{"fold":["ys0","ys1"],"as":["k","yv"]},{"aggregate":[{"op":"mean","field":"yv","as":"ym"},{"op":"max","field":"x0","as":"xz"}],"groupby":["si"]}],
  "mark":{"type":"point","shape":"circle","filled":true,"fill":"white","stroke":"#1a1a1a","strokeWidth":1.5,"size":50,"opacity":1,"yOffset":-3},
  "encoding":{"x":{"field":"xz","type":"quantitative","title":"Cluster"},"y":{"field":"ym","type":"quantitative","title":"Site"}}},
 {"transform":[{"filter":"datum.si == 'Bone'"},{"fold":["x0","x1"],"as":["k","xv"]},{"aggregate":[{"op":"mean","field":"xv","as":"xm"}],"groupby":["cl"]}],
  "mark":{"type":"text","xOffset":-3,"dy":-6,"baseline":"bottom","fontSize":12,"color":"#1a1a1a"},
  "encoding":{"x":{"field":"xm","type":"quantitative","title":"Cluster"},"y":{"datum":0},"text":{"field":"cl"}}},
 {"transform":[{"fold":["ys0","ys1"],"as":["k","yv"]},{"aggregate":[{"op":"mean","field":"yv","as":"ym"}],"groupby":["si"]}],
  "mark":{"type":"text","angle":270,"baseline":"bottom","dy":-7,"yOffset":-3,"fontSize":12,"color":"#1a1a1a"},
  "encoding":{"x":{"datum":0},"y":{"field":"ym","type":"quantitative","title":"Site"},"text":{"field":"si"}}}
 ]},
{"width":13,"height":1,"data":{"values":[]},"mark":"rect","encoding":{}},
{"width":15,"height":184,
 "data":{"values":[{"lo":-1.8,"hi":2.0,"res":0},{"lo":2.0,"hi":3.0,"res":3.0}]},
 "title":{"text":["p-value =","0.0001514"],"orient":"bottom","anchor":"start","frame":"group","dx":-12,"offset":3,"fontSize":12,"lineHeight":12},
 "mark":{"type":"rect","stroke":"#333333","strokeWidth":1},
 "encoding":{"y":{"field":"lo","type":"quantitative","scale":{"domain":[-1.8,3.62],"nice":false,"zero":false},"axis":{"orient":"right","values":[-1.8,0,2,3],"format":".1f","labelExpr":"replace(datum.label, '\u2212', '-')","title":["Pearson","residuals:"],"titleAngle":0,"titleAlign":"left","titleBaseline":"top","titleX":-27,"titleY":-11,"titleLineHeight":12,"domain":false,"grid":false,"tickSize":9,"tickColor":"#1a1a1a","tickWidth":1.2,"labelPadding":3}},
  "y2":{"field":"hi"},
  "color":{"field":"res","type":"quantitative","scale":{"type":"threshold","domain":[2],"range":["#e0e0e0","#9fa8e2"]},"legend":null}}},
{"width":85,"height":1,"data":{"values":[]},"mark":"rect","encoding":{}},
{"width":9,"height":207,"title":{"text":"B","fontSize":17,"fontWeight":"bold","anchor":"start","frame":"group","dx":-27,"offset":48},"data":{"values":[]},"mark":"rect","encoding":{}},
{"width":205,"height":207,"data":{"name":"mB"},
 "transform":[{"stack":"n","groupby":["si"],"sort":[{"field":"cl"}],"offset":"normalize","as":["x0","x1"]},{"stack":"n","groupby":[],"sort":[{"field":"si"},{"field":"cl"}],"offset":"normalize","as":["y0","y1"]},{"joinaggregate":[{"op":"min","field":"y0","as":"ys0"},{"op":"max","field":"y1","as":"ys1"}],"groupby":["si"]}],
 "layer":[
 {"transform":[{"filter":"datum.n > 0"}],"mark":{"type":"rect","x2Offset":-6,"y2Offset":-6,"stroke":"#1a1a1a","strokeWidth":1.6},
  "encoding":{"x":{"field":"x0","type":"quantitative","title":"Cluster","scale":{"domain":[0,1],"nice":false,"zero":false},"axis":{"orient":"top","labels":false,"ticks":false,"domain":false,"grid":false,"titlePadding":23}},"x2":{"field":"x1"},
  "y":{"field":"ys0","type":"quantitative","title":"Site","scale":{"domain":[0,1],"nice":false,"zero":false,"reverse":true},"axis":{"orient":"left","labels":false,"ticks":false,"domain":false,"grid":false,"titlePadding":20}},"y2":{"field":"ys1"},
  "color":{"field":"res","type":"quantitative","scale":{"type":"threshold","domain":[2],"range":["#e0e0e0","#9fa8e2"]},"legend":null}}},
 {"transform":[{"filter":"datum.n == 0"}],"mark":{"type":"rule","y2Offset":-6,"strokeWidth":1.6,"color":"#1a1a1a"},
  "encoding":{"x":{"field":"x0","type":"quantitative","title":"Cluster"},"y":{"field":"ys0","type":"quantitative","title":"Site"},"y2":{"field":"ys1"}}},
 {"transform":[{"filter":"datum.n == 0"},{"fold":["ys0","ys1"],"as":["k","yv"]},{"aggregate":[{"op":"mean","field":"yv","as":"ym"},{"op":"max","field":"x0","as":"xz"}],"groupby":["si"]}],
  "mark":{"type":"point","shape":"circle","filled":true,"fill":"white","stroke":"#1a1a1a","strokeWidth":1.5,"size":50,"opacity":1,"yOffset":-3},
  "encoding":{"x":{"field":"xz","type":"quantitative","title":"Cluster"},"y":{"field":"ym","type":"quantitative","title":"Site"}}},
 {"transform":[{"filter":"datum.si == 'Bone'"},{"fold":["x0","x1"],"as":["k","xv"]},{"aggregate":[{"op":"mean","field":"xv","as":"xm"}],"groupby":["cl"]}],
  "mark":{"type":"text","xOffset":-3,"dy":-6,"baseline":"bottom","fontSize":12,"color":"#1a1a1a"},
  "encoding":{"x":{"field":"xm","type":"quantitative","title":"Cluster"},"y":{"datum":0},"text":{"field":"cl"}}},
 {"transform":[{"fold":["ys0","ys1"],"as":["k","yv"]},{"aggregate":[{"op":"mean","field":"yv","as":"ym"}],"groupby":["si"]}],
  "mark":{"type":"text","angle":270,"baseline":"bottom","dy":-7,"yOffset":-3,"fontSize":12,"color":"#1a1a1a"},
  "encoding":{"x":{"datum":0},"y":{"field":"ym","type":"quantitative","title":"Site"},"text":{"field":"si"}}}
 ]},
{"width":13,"height":1,"data":{"values":[]},"mark":"rect","encoding":{}},
{"width":15,"height":184,
 "data":{"values":[{"lo":-1.8,"hi":2.0,"res":0},{"lo":2.0,"hi":3.1,"res":3.1}]},
 "title":{"text":["p-value =","0.00014419"],"orient":"bottom","anchor":"start","frame":"group","dx":-12,"offset":3,"fontSize":12,"lineHeight":12},
 "mark":{"type":"rect","stroke":"#333333","strokeWidth":1},
 "encoding":{"y":{"field":"lo","type":"quantitative","scale":{"domain":[-1.8,3.73],"nice":false,"zero":false},"axis":{"orient":"right","values":[-1.8,0,2,3.1],"format":".1f","labelExpr":"replace(datum.label, '\u2212', '-')","title":["Pearson","residuals:"],"titleAngle":0,"titleAlign":"left","titleBaseline":"top","titleX":-27,"titleY":-11,"titleLineHeight":12,"domain":false,"grid":false,"tickSize":9,"tickColor":"#1a1a1a","tickWidth":1.2,"labelPadding":3}},
  "y2":{"field":"hi"},
  "color":{"field":"res","type":"quantitative","scale":{"type":"threshold","domain":[2],"range":["#e0e0e0","#9fa8e2"]},"legend":null}}},
{"width":88,"height":1,"data":{"values":[]},"mark":"rect","encoding":{}},
{"width":9,"height":207,"title":{"text":"C","fontSize":17,"fontWeight":"bold","anchor":"start","frame":"group","dx":-27,"offset":48},"data":{"values":[]},"mark":"rect","encoding":{}},
{"width":205,"height":207,"data":{"name":"mC"},
 "transform":[{"stack":"n","groupby":["si"],"sort":[{"field":"cl"}],"offset":"normalize","as":["x0","x1"]},{"stack":"n","groupby":[],"sort":[{"field":"si"},{"field":"cl"}],"offset":"normalize","as":["y0","y1"]},{"joinaggregate":[{"op":"min","field":"y0","as":"ys0"},{"op":"max","field":"y1","as":"ys1"}],"groupby":["si"]}],
 "layer":[
 {"transform":[{"filter":"datum.n > 0"}],"mark":{"type":"rect","x2Offset":-6,"y2Offset":-6,"stroke":"#1a1a1a","strokeWidth":1.6},
  "encoding":{"x":{"field":"x0","type":"quantitative","title":"Cluster","scale":{"domain":[0,1],"nice":false,"zero":false},"axis":{"orient":"top","labels":false,"ticks":false,"domain":false,"grid":false,"titlePadding":23}},"x2":{"field":"x1"},
  "y":{"field":"ys0","type":"quantitative","title":"Site","scale":{"domain":[0,1],"nice":false,"zero":false,"reverse":true},"axis":{"orient":"left","labels":false,"ticks":false,"domain":false,"grid":false,"titlePadding":20}},"y2":{"field":"ys1"},
  "color":{"field":"res","type":"quantitative","scale":{"type":"threshold","domain":[2],"range":["#e0e0e0","#9fa8e2"]},"legend":null}}},
 {"transform":[{"filter":"datum.n == 0"}],"mark":{"type":"rule","y2Offset":-6,"strokeWidth":1.6,"color":"#1a1a1a"},
  "encoding":{"x":{"field":"x0","type":"quantitative","title":"Cluster"},"y":{"field":"ys0","type":"quantitative","title":"Site"},"y2":{"field":"ys1"}}},
 {"transform":[{"filter":"datum.n == 0"},{"fold":["ys0","ys1"],"as":["k","yv"]},{"aggregate":[{"op":"mean","field":"yv","as":"ym"},{"op":"max","field":"x0","as":"xz"}],"groupby":["si"]}],
  "mark":{"type":"point","shape":"circle","filled":true,"fill":"white","stroke":"#1a1a1a","strokeWidth":1.5,"size":50,"opacity":1,"yOffset":-3},
  "encoding":{"x":{"field":"xz","type":"quantitative","title":"Cluster"},"y":{"field":"ym","type":"quantitative","title":"Site"}}},
 {"transform":[{"filter":"datum.si == 'Bone'"},{"fold":["x0","x1"],"as":["k","xv"]},{"aggregate":[{"op":"mean","field":"xv","as":"xm"}],"groupby":["cl"]}],
  "mark":{"type":"text","xOffset":-3,"dy":-6,"baseline":"bottom","fontSize":12,"color":"#1a1a1a"},
  "encoding":{"x":{"field":"xm","type":"quantitative","title":"Cluster"},"y":{"datum":0},"text":{"field":"cl"}}},
 {"transform":[{"fold":["ys0","ys1"],"as":["k","yv"]},{"aggregate":[{"op":"mean","field":"yv","as":"ym"}],"groupby":["si"]}],
  "mark":{"type":"text","angle":270,"baseline":"bottom","dy":-7,"yOffset":-3,"fontSize":12,"color":"#1a1a1a"},
  "encoding":{"x":{"datum":0},"y":{"field":"ym","type":"quantitative","title":"Site"},"text":{"field":"si"}}}
 ]},
{"width":13,"height":1,"data":{"values":[]},"mark":"rect","encoding":{}},
{"width":15,"height":184,
 "data":{"values":[{"lo":-2.0,"hi":2.0,"res":0},{"lo":2.0,"hi":3.7,"res":3.7}]},
 "title":{"text":["p-value =","0.00012233"],"orient":"bottom","anchor":"start","frame":"group","dx":-12,"offset":3,"fontSize":12,"lineHeight":12},
 "mark":{"type":"rect","stroke":"#333333","strokeWidth":1},
 "encoding":{"y":{"field":"lo","type":"quantitative","scale":{"domain":[-2.0,4.43],"nice":false,"zero":false},"axis":{"orient":"right","values":[-2,0,2,3.7],"format":".1f","labelExpr":"replace(datum.label, '\u2212', '-')","title":["Pearson","residuals:"],"titleAngle":0,"titleAlign":"left","titleBaseline":"top","titleX":-27,"titleY":-11,"titleLineHeight":12,"domain":false,"grid":false,"tickSize":9,"tickColor":"#1a1a1a","tickWidth":1.2,"labelPadding":3}},
  "y2":{"field":"hi"},
  "color":{"field":"res","type":"quantitative","scale":{"type":"threshold","domain":[2],"range":["#e0e0e0","#9fa8e2"]},"legend":null}}},
{"width":1,"height":17,"data":{"values":[]},"mark":"rect","encoding":{}},
{"width":1,"height":17,"data":{"values":[]},"mark":"rect","encoding":{}},
{"width":1,"height":17,"data":{"values":[]},"mark":"rect","encoding":{}},
{"width":1,"height":17,"data":{"values":[]},"mark":"rect","encoding":{}},
{"width":1,"height":17,"data":{"values":[]},"mark":"rect","encoding":{}},
{"width":1,"height":17,"data":{"values":[]},"mark":"rect","encoding":{}},
{"width":1,"height":17,"data":{"values":[]},"mark":"rect","encoding":{}},
{"width":1,"height":17,"data":{"values":[]},"mark":"rect","encoding":{}},
{"width":1,"height":17,"data":{"values":[]},"mark":"rect","encoding":{}},
{"width":1,"height":17,"data":{"values":[]},"mark":"rect","encoding":{}},
{"width":1,"height":17,"data":{"values":[]},"mark":"rect","encoding":{}},
{"width":1,"height":17,"data":{"values":[]},"mark":"rect","encoding":{}},
{"width":1,"height":17,"data":{"values":[]},"mark":"rect","encoding":{}},
{"width":1,"height":17,"data":{"values":[]},"mark":"rect","encoding":{}},
{"width":1,"height":1,"data":{"values":[]},"mark":"rect","encoding":{}},
{"width":210,"height":43,"data":{"name":"mA"},"transform":[{"filter":"datum.n > 0"}],
 "layer":[
 {"transform":[{"aggregate":[{"op":"sum","field":"n","as":"n"}],"groupby":["cl"]},{"stack":"n","groupby":[],"sort":[{"field":"cl"}],"as":["x0","x1"]}],
  "mark":{"type":"rect"},
  "encoding":{"x":{"field":"x0","type":"quantitative","axis":null,"scale":{"nice":false,"zero":true}},"x2":{"field":"x1"},
   "y":{"datum":"Cluster","type":"nominal","scale":{"domain":["Cluster","Site"],"paddingInner":0.05,"paddingOuter":0},"axis":{"orient":"right","title":null,"ticks":false,"domain":false,"labelPadding":4}},
   "color":{"field":"cl","type":"nominal","scale":{"domain":["1","2","3"],"range":["#8b0000","#90ee90","#87ceeb"]},"legend":null}}},
 {"transform":[{"stack":"n","groupby":[],"sort":[{"field":"cl"},{"field":"si"}],"as":["x0","x1"]}],
  "mark":{"type":"rect","stroke":"white","strokeWidth":0.5},
  "encoding":{"x":{"field":"x0","type":"quantitative"},"x2":{"field":"x1"},"y":{"datum":"Site","type":"nominal"},
   "color":{"field":"si","type":"nominal","scale":{"domain":["Bone","Breast","Liver","Lymph node","Skin"],"range":["#46709f","#7dc373","#e05555","#b9962d","#f9b9cd"]},"legend":{"title":"Site","orient":"none","legendX":57,"legendY":190,"symbolType":"square","symbolSize":256,"symbolStrokeColor":"white","symbolStrokeWidth":1,"rowPadding":-8,"labelOffset":4,"titlePadding":5}}}}
 ],
 "resolve":{"scale":{"color":"independent"}}},
{"width":1,"height":1,"data":{"values":[]},"mark":"rect","encoding":{}},
{"width":1,"height":1,"data":{"values":[]},"mark":"rect","encoding":{}},
{"width":1,"height":1,"data":{"values":[]},"mark":"rect","encoding":{}},
{"width":1,"height":1,"data":{"values":[]},"mark":"rect","encoding":{}},
{"width":210,"height":43,"data":{"name":"mB"},"transform":[{"filter":"datum.n > 0"}],
 "layer":[
 {"transform":[{"aggregate":[{"op":"sum","field":"n","as":"n"}],"groupby":["cl"]},{"stack":"n","groupby":[],"sort":[{"field":"cl"}],"as":["x0","x1"]}],
  "mark":{"type":"rect"},
  "encoding":{"x":{"field":"x0","type":"quantitative","axis":null,"scale":{"nice":false,"zero":true}},"x2":{"field":"x1"},
   "y":{"datum":"Cluster","type":"nominal","scale":{"domain":["Cluster","Site"],"paddingInner":0.05,"paddingOuter":0},"axis":{"orient":"right","title":null,"ticks":false,"domain":false,"labelPadding":4}},
   "color":{"field":"cl","type":"nominal","scale":{"domain":["1","2","3"],"range":["#8b0000","#90ee90","#87ceeb"]},"legend":null}}},
 {"transform":[{"stack":"n","groupby":[],"sort":[{"field":"cl"},{"field":"si"}],"as":["x0","x1"]}],
  "mark":{"type":"rect","stroke":"white","strokeWidth":0.5},
  "encoding":{"x":{"field":"x0","type":"quantitative"},"x2":{"field":"x1"},"y":{"datum":"Site","type":"nominal"},
   "color":{"field":"si","type":"nominal","scale":{"domain":["Bone","Breast","Liver","Lymph node","Skin"],"range":["#46709f","#7dc373","#e05555","#b9962d","#f9b9cd"]},"legend":{"title":"Site","orient":"none","legendX":62,"legendY":190,"symbolType":"square","symbolSize":256,"symbolStrokeColor":"white","symbolStrokeWidth":1,"rowPadding":-8,"labelOffset":4,"titlePadding":5}}}}
 ],
 "resolve":{"scale":{"color":"independent"}}},
{"width":1,"height":1,"data":{"values":[]},"mark":"rect","encoding":{}},
{"width":1,"height":1,"data":{"values":[]},"mark":"rect","encoding":{}},
{"width":1,"height":1,"data":{"values":[]},"mark":"rect","encoding":{}},
{"width":1,"height":1,"data":{"values":[]},"mark":"rect","encoding":{}},
{"width":210,"height":43,"data":{"name":"mC"},"transform":[{"filter":"datum.n > 0"}],
 "layer":[
 {"transform":[{"aggregate":[{"op":"sum","field":"n","as":"n"}],"groupby":["cl"]},{"stack":"n","groupby":[],"sort":[{"field":"cl"}],"as":["x0","x1"]}],
  "mark":{"type":"rect"},
  "encoding":{"x":{"field":"x0","type":"quantitative","axis":null,"scale":{"nice":false,"zero":true}},"x2":{"field":"x1"},
   "y":{"datum":"Cluster","type":"nominal","scale":{"domain":["Cluster","Site"],"paddingInner":0.05,"paddingOuter":0},"axis":{"orient":"right","title":null,"ticks":false,"domain":false,"labelPadding":4}},
   "color":{"field":"cl","type":"nominal","scale":{"domain":["1","2","3"],"range":["#8b0000","#90ee90","#87ceeb"]},"legend":null}}},
 {"transform":[{"stack":"n","groupby":[],"sort":[{"field":"cl"},{"field":"si"}],"as":["x0","x1"]}],
  "mark":{"type":"rect","stroke":"white","strokeWidth":0.5},
  "encoding":{"x":{"field":"x0","type":"quantitative"},"x2":{"field":"x1"},"y":{"datum":"Site","type":"nominal"},
   "color":{"field":"si","type":"nominal","scale":{"domain":["Bone","Breast","Liver","Lymph node","Skin"],"range":["#46709f","#7dc373","#e05555","#b9962d","#f9b9cd"]},"legend":{"title":"Site","orient":"none","legendX":40,"legendY":190,"symbolType":"square","symbolSize":256,"symbolStrokeColor":"white","symbolStrokeWidth":1,"rowPadding":-8,"labelOffset":4,"titlePadding":5}}}}
 ],
 "resolve":{"scale":{"color":"independent"}}},
{"width":1,"height":1,"data":{"values":[]},"mark":"rect","encoding":{}},
{"width":1,"height":1,"data":{"values":[]},"mark":"rect","encoding":{}},
{"width":9,"height":135,"data":{"name":"grp"},"mark":{"type":"rect"},
 "encoding":{"y":{"field":"r","type":"ordinal","axis":null,"scale":{"paddingInner":0,"paddingOuter":0}},
  "color":{"field":"g","type":"nominal","scale":{"domain":["1","2","3"],"range":["#8b0000","#90ee90","#87ceeb"]},"legend":{"title":"Cluster","orient":"none","legendX":18,"legendY":143,"symbolType":"square","symbolSize":256,"symbolStrokeColor":"white","symbolStrokeWidth":1,"rowPadding":-8,"labelOffset":4,"titlePadding":5}}}},
{"width":210,"height":135,"data":{"name":"hA"},"mark":{"type":"rect","stroke":"white","strokeWidth":0.7},
 "encoding":{"x":{"field":"c","type":"ordinal","axis":null,"scale":{"paddingInner":0,"paddingOuter":0}},
  "y":{"field":"r","type":"ordinal","scale":{"paddingInner":0,"paddingOuter":0},"axis":{"orient":"right","title":null,"ticks":false,"domain":false,"labelPadding":4,"labelExpr":"['Macrophages','Plasma cells','DC','Monocytes','Neutrophils','Eosinophils','Memory B-cells','B-cells','CD4+ naive T-cells'][datum.value-1]"}},
  "color":{"field":"v","type":"quantitative","scale":{"domain":[-2,-1,0,1,2],"range":["#ffffcc","#eaf6c6","#d6efcf","#8aa4c8","#1f3e7c"]},"legend":{"title":"Cell Enrichment of Clusters","orient":"none","legendX":160,"legendY":143,"direction":"horizontal","gradientLength":72,"gradientThickness":17,"values":[-2,-1,0,1,2],"labelExpr":"'' + datum.value","labelOverlap":false,"titlePadding":5,"labelOffset":3}}}},
{"width":1,"height":1,"data":{"values":[]},"mark":"rect","encoding":{}},
{"width":1,"height":1,"data":{"values":[]},"mark":"rect","encoding":{}},
{"width":1,"height":1,"data":{"values":[]},"mark":"rect","encoding":{}},
{"width":9,"height":135,"data":{"name":"grp"},"mark":{"type":"rect"},
 "encoding":{"y":{"field":"r","type":"ordinal","axis":null,"scale":{"paddingInner":0,"paddingOuter":0}},
  "color":{"field":"g","type":"nominal","scale":{"domain":["1","2","3"],"range":["#8b0000","#90ee90","#87ceeb"]},"legend":{"title":"Cluster","orient":"none","legendX":23,"legendY":143,"symbolType":"square","symbolSize":256,"symbolStrokeColor":"white","symbolStrokeWidth":1,"rowPadding":-8,"labelOffset":4,"titlePadding":5}}}},
{"width":210,"height":135,"data":{"name":"hB"},"mark":{"type":"rect","stroke":"white","strokeWidth":0.7},
 "encoding":{"x":{"field":"c","type":"ordinal","axis":null,"scale":{"paddingInner":0,"paddingOuter":0}},
  "y":{"field":"r","type":"ordinal","scale":{"paddingInner":0,"paddingOuter":0},"axis":{"orient":"right","title":null,"ticks":false,"domain":false,"labelPadding":4,"labelExpr":"['Macrophages.M1','Dendritic.cells.resting','Mast.cells.activated','NK.cells.resting','Neutrophils','T.cells.CD8','B.cells.memory','T.cells.CD4.naive','B.cells.naive'][datum.value-1]"}},
  "color":{"field":"v","type":"quantitative","scale":{"domain":[-2,-1,0,1,2],"range":["#ffffcc","#eaf6c6","#d6efcf","#8aa4c8","#1f3e7c"]},"legend":{"title":"Cell Enrichment of Clusters","orient":"none","legendX":164,"legendY":143,"direction":"horizontal","gradientLength":72,"gradientThickness":17,"values":[-2,-1,0,1,2],"labelExpr":"'' + datum.value","labelOverlap":false,"titlePadding":5,"labelOffset":3}}}},
{"width":1,"height":1,"data":{"values":[]},"mark":"rect","encoding":{}},
{"width":1,"height":1,"data":{"values":[]},"mark":"rect","encoding":{}},
{"width":1,"height":1,"data":{"values":[]},"mark":"rect","encoding":{}},
{"width":9,"height":135,"data":{"name":"grp"},"mark":{"type":"rect"},
 "encoding":{"y":{"field":"r","type":"ordinal","axis":null,"scale":{"paddingInner":0,"paddingOuter":0}},
  "color":{"field":"g","type":"nominal","scale":{"domain":["1","2","3"],"range":["#8b0000","#90ee90","#87ceeb"]},"legend":{"title":"Cluster","orient":"none","legendX":0,"legendY":143,"symbolType":"square","symbolSize":256,"symbolStrokeColor":"white","symbolStrokeWidth":1,"rowPadding":-8,"labelOffset":4,"titlePadding":5}}}},
{"width":210,"height":135,"data":{"name":"hC"},"mark":{"type":"rect","stroke":"white","strokeWidth":0.7},
 "encoding":{"x":{"field":"c","type":"ordinal","axis":null,"scale":{"paddingInner":0,"paddingOuter":0}},
  "y":{"field":"r","type":"ordinal","scale":{"paddingInner":0,"paddingOuter":0},"axis":{"orient":"right","title":null,"ticks":false,"domain":false,"labelPadding":4,"labelExpr":"['B_cell','Macrophage','T_cell.CD8','Neutrophil','DC','T_cell.CD8','B_cell','Macrophage','T_cell.CD4'][datum.value-1]"}},
  "color":{"field":"v","type":"quantitative","scale":{"domain":[-2,-1,0,1,2],"range":["#ffffcc","#eaf6c6","#d6efcf","#8aa4c8","#1f3e7c"]},"legend":{"title":"Cell Enrichment of Clusters","orient":"none","legendX":142,"legendY":143,"direction":"horizontal","gradientLength":72,"gradientThickness":17,"values":[-2,-1,0,1,2],"labelExpr":"'' + datum.value","labelOverlap":false,"titlePadding":5,"labelOffset":3}}}},
{"width":1,"height":1,"data":{"values":[]},"mark":"rect","encoding":{}},
{"width":1,"height":1,"data":{"values":[]},"mark":"rect","encoding":{}}
]
}
